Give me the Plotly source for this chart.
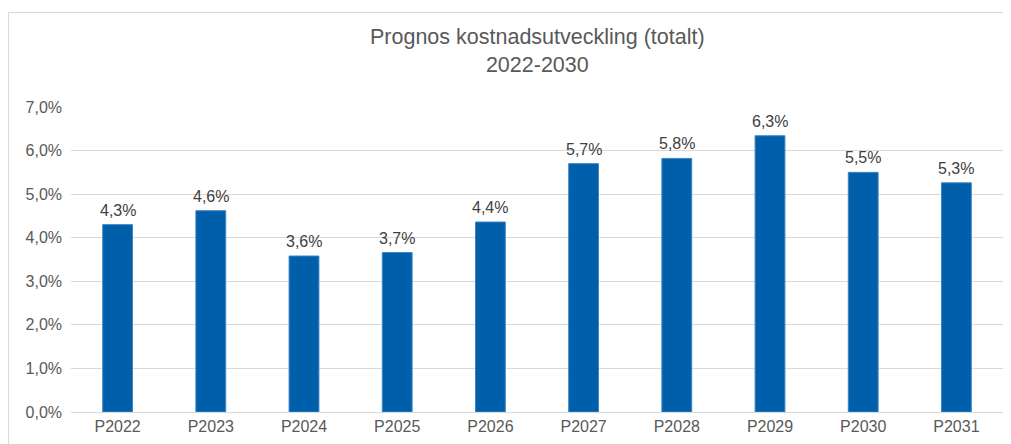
import plotly.graph_objects as go

categories = ["P2022", "P2023", "P2024", "P2025", "P2026", "P2027", "P2028", "P2029", "P2030", "P2031"]
values = [0.0430, 0.0462, 0.0358, 0.0366, 0.0436, 0.0570, 0.0582, 0.0634, 0.0550, 0.0526]
title_lines = ["Prognos kostnadsutveckling (totalt)", "2022-2030"]

FONT = "Liberation Sans, Arial, sans-serif"
TXT = "#595959"

fig = go.Figure(go.Bar(
    x=categories, y=values,
    marker=dict(color="#005FAB", line=dict(color="#3D86C4", width=1)),
    cliponaxis=False,
))

# page body has an 8px margin, so the figure starts at (8, 8) in the window
OFF = 8
W, H = 1011 - OFF, 444 - OFF
l, r, t, b = 71 - OFF, 8, 107 - OFF, 32
pw, ph = W - l - r, H - t - b

def px(xp):
    return (xp - OFF - l) / pw

def py(yp):
    return (H - b - (yp - OFF)) / ph

def fmt(v):
    return f"{v * 100:.1f}%".replace(".", ",")

annotations = [
    dict(x=c, y=v, xref="x", yref="y", text=fmt(v), showarrow=False,
         yanchor="bottom", yshift=4,
         font=dict(family=FONT, size=16, color="#404040"))
    for c, v in zip(categories, values)
]
annotations.append(dict(x=0.5, xref="paper", y=py(50.5), yref="paper",
                        text="<br>".join(title_lines), showarrow=False,
                        xanchor="center", yanchor="middle",
                        font=dict(family=FONT, size=21.5, color=TXT)))

fig.update_layout(
    width=W, height=H,
    margin=dict(l=l, r=r, t=t, b=b),
    paper_bgcolor="white", plot_bgcolor="white",
    separators=",.",
    showlegend=False,
    bargap=0.68,
    xaxis=dict(showgrid=False, showline=True, linecolor="#D9D9D9", linewidth=1,
               ticks="", tickfont=dict(family=FONT, size=16, color=TXT)),
    yaxis=dict(range=[0, 0.07], dtick=0.01, tickformat=".1%",
               showgrid=True, gridcolor="#D9D9D9", gridwidth=1,
               zeroline=False, showline=False, ticks="",
               ticklabelstandoff=8,
               tickfont=dict(family=FONT, size=16, color=TXT)),
    annotations=annotations,
    shapes=[dict(type="rect", xref="paper", yref="paper",
                 x0=px(8.5), x1=px(1010), y0=py(450), y1=py(12.5),
                 line=dict(color="#D9D9D9", width=1), fillcolor="rgba(0,0,0,0)",
                 layer="below")],
)

fig.write_html("out.html")
